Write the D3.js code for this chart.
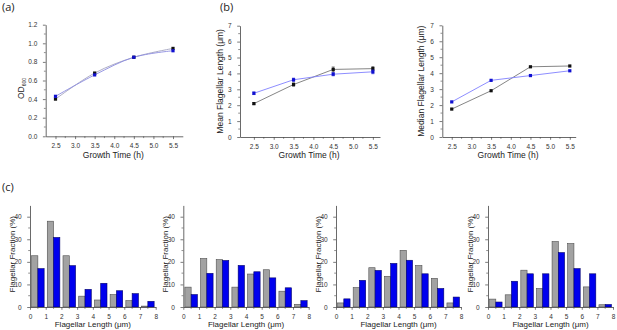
<!DOCTYPE html>
<html><head><meta charset="utf-8">
<script src="https://cdn.jsdelivr.net/npm/d3@7"></script>
<style>body{margin:0;background:#fff}svg{display:block}</style>
</head><body>
<script>
// ---------- data ----------
const growthTimes = [2.5, 3.5, 4.5, 5.5];
const odBlack = [0.40, 0.68, 0.85, 0.945];
const odBlue = [0.43, 0.66, 0.85, 0.92];
const meanBlack = [2.1, 3.3, 4.25, 4.3];
const meanBlue = [2.75, 3.6, 3.95, 4.1];
const meanErrBlack = [0.06, 0.1, 0.15, 0.12];
const meanErrBlue = [0.08, 0.1, 0.1, 0.12];
const medianBlack = [1.75, 2.9, 4.4, 4.45];
const medianBlue = [2.2, 3.55, 3.85, 4.15];
const timeTicks = [2.5, 3.0, 3.5, 4.0, 4.5, 5.0, 5.5];
const odTicks = [0, 0.2, 0.4, 0.6, 0.8, 1.0, 1.2];
const bins = [0, 1, 2, 3, 4, 5, 6, 7];
const histGray = [
  [22.7, 38.0, 22.7, 4.8, 3.1, 5.5, 2.8, 0.4],
  [8.8, 21.5, 21.0, 8.8, 14.6, 16.5, 7.0, 1.2],
  [1.8, 8.6, 17.4, 13.6, 25.1, 18.4, 12.7, 1.8],
  [3.5, 5.4, 16.3, 8.2, 29.0, 28.1, 8.9, 1.0]
];
const histBlue = [
  [17.0, 30.8, 18.3, 7.8, 10.5, 7.2, 5.9, 2.5],
  [5.5, 14.9, 20.6, 18.4, 15.6, 12.9, 8.5, 2.8],
  [3.6, 11.8, 16.2, 19.3, 20.7, 14.7, 8.2, 4.4],
  [2.2, 11.4, 14.7, 14.7, 24.1, 17.0, 14.7, 1.1]
];
const fracTicks = [0, 10, 20, 30, 40];
const distTicks = [0, 1, 2, 3, 4, 5, 6, 7, 8];

// ---------- layout ----------
const W = 617, H = 330;
const svg = d3.select("body").append("svg").attr("width", W).attr("height", H);
const FONT = "'Liberation Sans', Arial, sans-serif";
const AX = "#444";

function styleAxis(g) {
  g.selectAll("path.domain").attr("stroke", AX).attr("stroke-width", 0.8);
  g.selectAll(".tick line").attr("stroke", AX).attr("stroke-width", 0.7);
  g.selectAll(".tick text").attr("font-family", FONT).attr("font-size", 6.5).attr("fill", "#333");
}
function minor(g, scale, vals, orient) {
  const sel = g.append("g");
  vals.forEach(v => {
    const p = scale(v);
    if (orient === "bottom") sel.append("line").attr("x1", p).attr("x2", p).attr("y1", 0).attr("y2", 1.8);
    else sel.append("line").attr("y1", p).attr("y2", p).attr("x1", 0).attr("x2", -1.8);
  });
  sel.selectAll("line").attr("stroke", AX).attr("stroke-width", 0.6);
}
function label(x, y, txt, size, rot) {
  const t = svg.append("text").attr("font-family", FONT).attr("font-size", size).attr("fill", "#222")
    .attr("text-anchor", "middle");
  if (rot) t.attr("transform", `translate(${x},${y}) rotate(-90)`);
  else t.attr("x", x).attr("y", y);
  t.text(txt);
  return t;
}

// ---------- top line panels ----------
const topPanels = [
  {l: 45.7, r: 182.8, t: 24.7, b: 136.3, xd: [2.25, 5.75], yd: [0, 1.2], yt: odTicks, fmt: d3.format(".1f"),
   s: [odBlack, odBlue], err: null, curve: d3.curveCatmullRom, yl: null, lx: 21,
   lc: ["#a4a4c0", "#8c8ce0"]},
  {l: 240, r: 380, t: 25.7, b: 137, xd: [2.15, 5.68], yd: [0, 7], yt: [0,1,2,3,4,5,6,7], fmt: d3.format("d"),
   s: [meanBlack, meanBlue], err: [meanErrBlack, meanErrBlue], curve: d3.curveLinear,
   yl: "Mean  Flagellar  Length (μm)", lx: 220, lc: ["#777", "#8080ff"]},
  {l: 442.3, r: 575.7, t: 25.3, b: 137, xd: [2.26, 5.65], yd: [0, 7], yt: [0,1,2,3,4,5,6,7], fmt: d3.format("d"),
   s: [medianBlack, medianBlue], err: null, curve: d3.curveLinear,
   yl: "Median  Flagellar  Length (μm)", lx: 421, lc: ["#777", "#8080ff"]}
];
const ptCol = ["#111", "#1010d0"];
topPanels.forEach((p, pi) => {
  const x = d3.scaleLinear().domain(p.xd).range([p.l, p.r]);
  const y = d3.scaleLinear().domain(p.yd).range([p.b, p.t]);
  const gx = svg.append("g").attr("transform", `translate(0,${p.b})`)
    .call(d3.axisBottom(x).tickValues(timeTicks).tickFormat(d3.format(".1f")).tickSize(2.8).tickSizeOuter(0));
  minor(gx, x, [2.75, 3.25, 3.75, 4.25, 4.75, 5.25], "bottom");
  styleAxis(gx);
  gx.selectAll(".tick text").attr("dy", "0.9em");
  const gy = svg.append("g").attr("transform", `translate(${p.l},0)`)
    .call(d3.axisLeft(y).tickValues(p.yt).tickFormat(p.fmt).tickSize(2.8).tickSizeOuter(0));
  const mv = [];
  for (let i = 0; i < p.yt.length - 1; i++) mv.push((p.yt[i] + p.yt[i + 1]) / 2);
  minor(gy, y, mv, "left");
  styleAxis(gy);
  gy.selectAll(".tick text").attr("dx", "-0.4em");

  p.s.forEach((vals, si) => {
    const line = d3.line().x((d, i) => x(growthTimes[i])).y(d => y(d)).curve(p.curve);
    svg.append("path").datum(vals).attr("d", line).attr("fill", "none")
      .attr("stroke", p.lc[si]).attr("stroke-width", 0.9);
  });
  p.s.forEach((vals, si) => {
    if (p.err) {
      vals.forEach((v, i) => {
        const e = p.err[si][i], cx = x(growthTimes[i]);
        svg.append("line").attr("x1", cx).attr("x2", cx).attr("y1", y(v - e)).attr("y2", y(v + e))
          .attr("stroke", ptCol[si]).attr("stroke-width", 0.6);
        [v - e, v + e].forEach(q => svg.append("line").attr("x1", cx - 1.5).attr("x2", cx + 1.5)
          .attr("y1", y(q)).attr("y2", y(q)).attr("stroke", ptCol[si]).attr("stroke-width", 0.6));
      });
    }
    svg.append("g").selectAll("rect").data(vals).join("rect")
      .attr("x", (d, i) => x(growthTimes[i]) - 1.6).attr("y", d => y(d) - 1.6)
      .attr("width", 3.2).attr("height", 3.2).attr("fill", ptCol[si]);
  });
  label((p.l + p.r) / 2 - 1, 158, "Growth Time (h)", 8.5);
  const my = (p.t + p.b) / 2;
  if (p.yl) label(p.lx, my, p.yl, 8.5, true).attr("dy", "0.35em");
  else {
    const t = svg.append("text").attr("font-family", FONT).attr("font-size", 8.5).attr("fill", "#222")
      .attr("text-anchor", "middle").attr("transform", `translate(${p.lx + 3},${my + 8}) rotate(-90)`);
    t.append("tspan").text("OD");
    t.append("tspan").attr("font-size", 5).attr("dy", 2).text("600");
  }
});

// ---------- histograms ----------
const hist = [
  {l: 30, r: 155.7}, {l: 183.3, r: 308.7}, {l: 336, r: 461}, {l: 488, r: 613}
];
const hT = 205.4, hB = 307;
hist.forEach((p, hi) => {
  const x = d3.scaleLinear().domain([0, 8]).range([p.l, p.r]);
  const y = d3.scaleLinear().domain([0, 45]).range([hB, hT]);
  const g = svg.append("g");
  g.selectAll("rect.g").data(histGray[hi]).join("rect").attr("class", "g")
    .attr("x", (d, i) => x(bins[i] + 0.1)).attr("width", x(0.4) - x(0))
    .attr("y", d => y(d)).attr("height", d => y(0) - y(d))
    .attr("fill", "#a2a2a2").attr("stroke", "#505050").attr("stroke-width", 0.6);
  g.selectAll("rect.b").data(histBlue[hi]).join("rect").attr("class", "b")
    .attr("x", (d, i) => x(bins[i] + 0.5)).attr("width", x(0.4) - x(0))
    .attr("y", d => y(d)).attr("height", d => y(0) - y(d))
    .attr("fill", "#0000ee").attr("stroke", "#00006a").attr("stroke-width", 0.6);
  const gx = svg.append("g").attr("transform", `translate(0,${hB})`)
    .call(d3.axisBottom(x).tickValues(distTicks).tickFormat(d3.format("d")).tickSize(2.8).tickSizeOuter(0));
  minor(gx, x, distTicks.slice(0, 8).map(v => v + 0.5), "bottom");
  styleAxis(gx);
  gx.selectAll(".tick text").attr("dy", "0.9em");
  const gy = svg.append("g").attr("transform", `translate(${p.l},0)`)
    .call(d3.axisLeft(y).tickValues(fracTicks).tickFormat(d3.format("d")).tickSize(2.8).tickSizeOuter(0));
  minor(gy, y, [5, 15, 25, 35], "left");
  styleAxis(gy);
  gy.selectAll(".tick text").attr("dx", "-0.4em");
  label((p.l + p.r) / 2, 327, "Flagellar  Length (μm)", 8);
  label(p.l - 18, (hT + hB) / 2 - 2, "Flagellar  Fraction (%)", 8, true).attr("dy", "0.35em");
});

// ---------- panel letters ----------
[["(a)", 2, 11], ["(b)", 220, 11], ["(c)", 2, 191]].forEach(([t, x, y]) =>
  svg.append("text").attr("x", x).attr("y", y).attr("font-family", "'Open Sans', sans-serif")
    .attr("font-size", 11).attr("fill", "#222").text(t));
</script>
</body></html>
